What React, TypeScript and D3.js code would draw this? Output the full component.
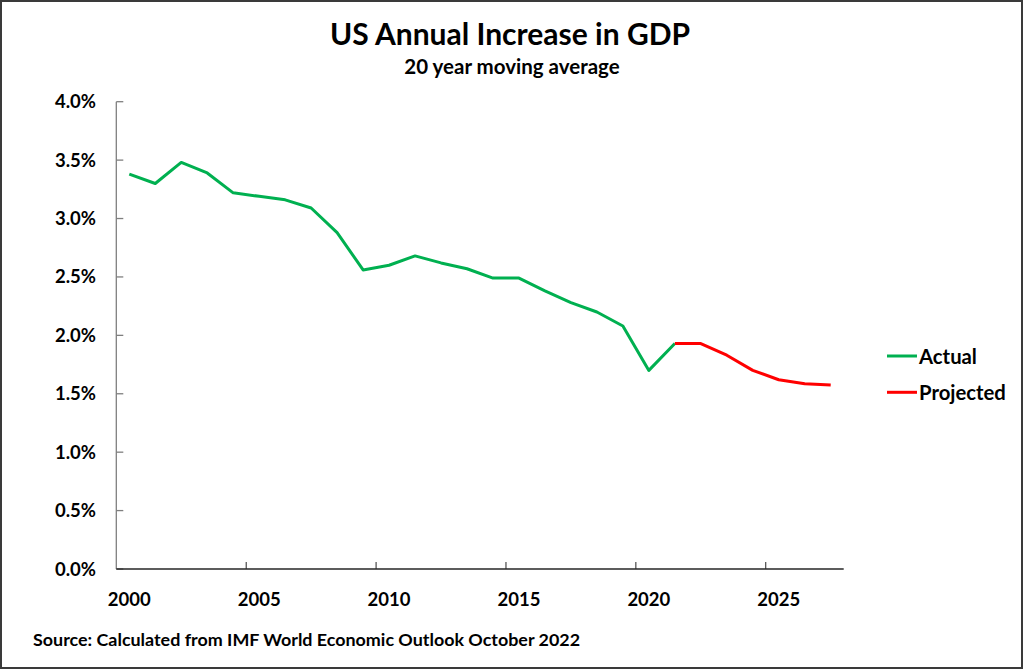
import React from "react";
import * as d3 from "d3";

const years: number[] = d3.range(2000, 2028);
const actualYears: number[] = d3.range(2000, 2022);
const actualValues: number[] = [
  3.38, 3.3, 3.48, 3.39, 3.22, 3.19, 3.16, 3.09, 2.88, 2.56, 2.6,
  2.68, 2.62, 2.57, 2.49, 2.49, 2.38, 2.28, 2.2, 2.08, 1.7, 1.93,
];
const projectedYears: number[] = [2021, 2022, 2023, 2024, 2025, 2026, 2027];
const projectedValues: number[] = [1.93, 1.93, 1.83, 1.7, 1.62, 1.585, 1.575];
const yTicks: number[] = [0, 0.5, 1, 1.5, 2, 2.5, 3, 3.5, 4];
const xLabelYears: number[] = [2000, 2005, 2010, 2015, 2020, 2025];

const W = 1024;
const H = 670;
const FONT = "Lato, 'Open Sans', sans-serif";

export default function App() {
  const x = d3.scaleBand<number>().domain(years).range([116.3, 843.7]);
  const xc = (yr: number) => (x(yr) as number) + x.bandwidth() / 2;
  const y = d3.scaleLinear().domain([0, 4]).range([569, 101.7]);

  const line = d3
    .line<[number, number]>()
    .x((d) => xc(d[0]))
    .y((d) => y(d[1]));

  const actual = actualYears.map((yr, i) => [yr, actualValues[i]] as [number, number]);
  const projected = projectedYears.map((yr, i) => [yr, projectedValues[i]] as [number, number]);

  const x0 = x.range()[0];
  const x1 = x.range()[1];
  const tickYears = years.filter((yr) => (yr - 2000) % 5 === 0 && yr !== 2000);

  return (
    <svg width={W} height={H} style={{ position: "absolute", left: 0, top: 0, fontFamily: FONT }}>
      <rect x={0} y={0} width={W} height={H} fill="#fff" />
      <rect x={1} y={1} width={W - 3} height={H - 3} fill="none" stroke="#3a3a3a" strokeWidth={2} />
      <text x={510} y={44.5} textAnchor="middle" fontSize={30} fontWeight="bold" fill="#000">
        US Annual Increase in GDP
      </text>
      <text x={512} y={73.5} textAnchor="middle" fontSize={20.5} fontWeight="bold" fill="#000">
        20 year moving average
      </text>

      {/* y axis */}
      <line x1={x0} x2={x0} y1={y(4)} y2={y(0)} stroke="#7f7f7f" strokeWidth={1.3} />
      {yTicks.map((t) => (
        <g key={t}>
          <line x1={x0} x2={x0 + 7} y1={y(t)} y2={y(t)} stroke="#7f7f7f" strokeWidth={1.3} />
          <text x={96} y={y(t) + 6.5} textAnchor="end" fontSize={18.5} fontWeight="bold" fill="#000">
            {d3.format(".1f")(t) + "%"}
          </text>
        </g>
      ))}

      {/* x axis */}
      <line x1={x0} x2={x1} y1={y(0)} y2={y(0)} stroke="#262626" strokeWidth={1.5} />
      {tickYears.map((yr) => (
        <line key={yr} x1={x(yr) as number} x2={x(yr) as number} y1={y(0)} y2={y(0) - 7} stroke="#262626" strokeWidth={1} />
      ))}
      {xLabelYears.map((yr) => (
        <text key={yr} x={xc(yr)} y={605.5} textAnchor="middle" fontSize={18.5} fontWeight="bold" fill="#000">
          {yr}
        </text>
      ))}

      <path d={line(actual) as string} fill="none" stroke="#00B050" strokeWidth={3} strokeLinejoin="round" />
      <path d={line(projected) as string} fill="none" stroke="#FF0000" strokeWidth={3} strokeLinejoin="round" />

      {/* legend */}
      <line x1={887} x2={917} y1={356} y2={356} stroke="#00B050" strokeWidth={3} />
      <text x={919} y={363.5} fontSize={20.3} fontWeight="bold" fill="#000">Actual</text>
      <line x1={887} x2={917} y1={392.3} y2={392.3} stroke="#FF0000" strokeWidth={3} />
      <text x={919} y={399.8} fontSize={20.3} fontWeight="bold" fill="#000">Projected</text>

      <text x={33} y={645.5} fontSize={17.9} fontWeight="bold" fill="#000">
        Source: Calculated from IMF World Economic Outlook October 2022
      </text>
    </svg>
  );
}
